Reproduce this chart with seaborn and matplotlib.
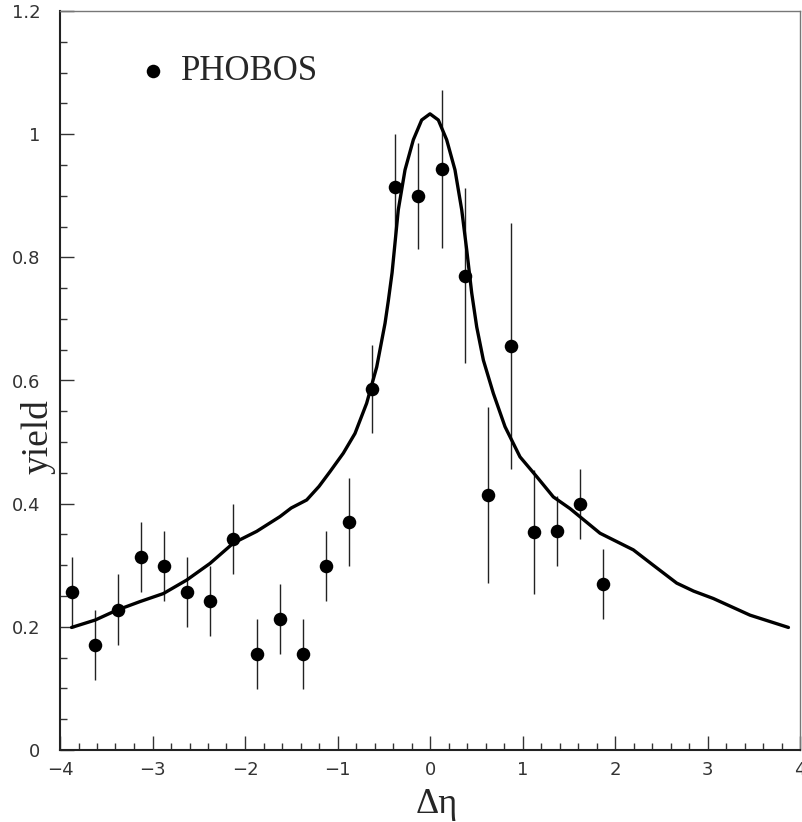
import numpy as np
import pandas as pd
import matplotlib
matplotlib.use("Agg")
import matplotlib.pyplot as plt
import seaborn as sns
from matplotlib.ticker import MultipleLocator, FixedLocator

# ---- data ----
data_x = [-3.875, -3.625, -3.375, -3.125, -2.875, -2.625, -2.375, -2.125,
          -1.875, -1.625, -1.375, -1.125, -0.875, -0.625, -0.375, -0.125,
          0.125, 0.375, 0.625, 0.875, 1.125, 1.375, 1.625, 1.875]
data_y = [0.256, 0.170, 0.228, 0.313, 0.299, 0.256, 0.242, 0.342,
          0.156, 0.213, 0.156, 0.299, 0.370, 0.586, 0.914, 0.900,
          0.943, 0.770, 0.414, 0.656, 0.354, 0.356, 0.399, 0.270]
data_err = [0.057, 0.057, 0.057, 0.057, 0.057, 0.057, 0.057, 0.057,
            0.057, 0.057, 0.057, 0.057, 0.071, 0.071, 0.086, 0.086,
            0.128, 0.142, 0.143, 0.200, 0.100, 0.057, 0.057, 0.057]

curve_x = [-3.875, -3.62, -3.387, -3.135, -2.883, -2.63, -2.378, -2.126,
           -1.874, -1.622, -1.50, -1.333, -1.20, -1.081, -0.937, -0.811,
           -0.685, -0.576, -0.486, -0.451, -0.41, -0.343, -0.27, -0.18,
           -0.09, 0.0, 0.09, 0.18, 0.27, 0.343, 0.397, 0.451, 0.505,
           0.577, 0.685, 0.811, 0.973, 1.153, 1.333, 1.514, 1.838, 2.198,
           2.414, 2.667, 2.85, 3.063, 3.459, 3.875]
curve_y = [0.199, 0.211, 0.227, 0.241, 0.254, 0.276, 0.303, 0.336,
           0.355, 0.379, 0.393, 0.406, 0.428, 0.452, 0.482, 0.514,
           0.563, 0.622, 0.693, 0.729, 0.775, 0.877, 0.942, 0.991,
           1.023, 1.033, 1.023, 0.991, 0.942, 0.877, 0.812, 0.742, 0.687,
           0.633, 0.579, 0.525, 0.476, 0.444, 0.411, 0.392, 0.352, 0.325,
           0.300, 0.271, 0.258, 0.246, 0.219, 0.199]

x_ticks = [-4, -3, -2, -1, 0, 1, 2, 3, 4]
y_ticks = [0, 0.2, 0.4, 0.6, 0.8, 1.0, 1.2]
y_ticklabels = ["0", "0.2", "0.4", "0.6", "0.8", "1", "1.2"]
x_ticklabels = ["\u22124", "\u22123", "\u22122", "\u22121", "0", "1", "2", "3", "4"]

df_pts = pd.DataFrame({"x": data_x, "y": data_y, "err": data_err})
df_curve = pd.DataFrame({"x": curve_x, "y": curve_y})

sns.set_style("ticks")
plt.rcParams["font.family"] = ["DejaVu Sans"]

fig = plt.figure(figsize=(8.02, 8.22), dpi=100)
ax = fig.add_axes([60 / 802, 72 / 822, 740 / 802, 739 / 822])

ax.errorbar(df_pts["x"], df_pts["y"], yerr=df_pts["err"], fmt="none",
            ecolor="#222222", elinewidth=1.0, capsize=0, zorder=2)
sns.lineplot(data=df_curve, x="x", y="y", ax=ax, color="black", lw=2.4,
             sort=False, estimator=None, zorder=3)
sns.scatterplot(data=df_pts, x="x", y="y", ax=ax, color="black", s=95,
                marker="o", edgecolor="black", linewidth=0, zorder=4,
                label="PHOBOS")

ax.set_xlim(-4, 4)
ax.set_ylim(0, 1.2)
ax.xaxis.set_major_locator(FixedLocator(x_ticks))
ax.yaxis.set_major_locator(FixedLocator(y_ticks))
ax.set_xticklabels(x_ticklabels)
ax.set_yticklabels(y_ticklabels)
ax.xaxis.set_minor_locator(MultipleLocator(0.2))
ax.yaxis.set_minor_locator(MultipleLocator(0.05))
ax.tick_params(axis="both", which="both", direction="in", top=False, right=False,
               color="#333333", labelcolor="#333333", labelsize=13)
ax.tick_params(axis="both", which="major", length=10, width=1.0)
ax.tick_params(axis="both", which="minor", length=5, width=1.0)
ax.tick_params(axis="x", which="major", pad=8)
ax.tick_params(axis="y", which="major", pad=14)

for side in ["left", "bottom"]:
    ax.spines[side].set_color("#222222")
    ax.spines[side].set_linewidth(1.5)
for side in ["top", "right"]:
    ax.spines[side].set_visible(True)
    ax.spines[side].set_color("#777777")
    ax.spines[side].set_linewidth(1.0)

ax.set_xlabel("\u0394\u03b7", fontsize=26, family="Liberation Serif")
ax.set_ylabel("yield", fontsize=27, family="Liberation Serif")
ax.xaxis.set_label_coords(0.509, -0.052)
ax.yaxis.set_label_coords(-0.006, 0.4235)

leg = ax.legend(loc="center left", bbox_to_anchor=(0.102, 0.918), frameon=False,
                prop={"family": "Liberation Serif", "size": 25},
                handlelength=1.0, handletextpad=0.32, borderpad=0,
                borderaxespad=0, markerscale=1.0)

fig.savefig("out.png", dpi=100)
